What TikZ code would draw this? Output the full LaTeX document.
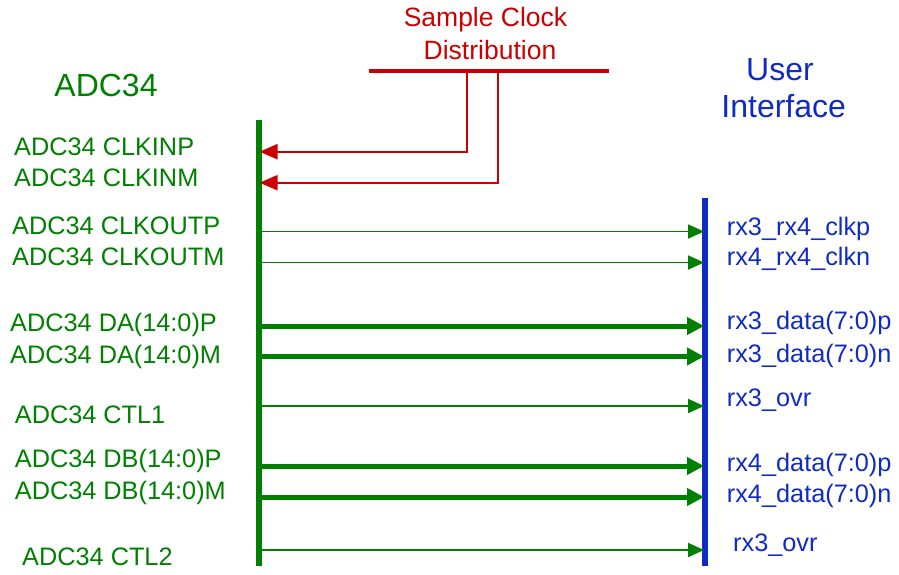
\documentclass[tikz,border=0pt]{standalone}
\usepackage{fontspec}
\setmainfont{Liberation Sans}
\usetikzlibrary{arrows.meta}
\definecolor{adcgreen}{RGB}{0,128,0}
\definecolor{clkred}{RGB}{204,0,0}
\definecolor{uiblue}{RGB}{16,44,192}
\tikzset{
  lbl/.style={anchor=base west, inner sep=0pt, text=adcgreen, font=\fontsize{25.3}{30}\selectfont},
  rlbl/.style={anchor=base west, inner sep=0pt, text=uiblue, font=\fontsize{25.3}{30}\selectfont},
  ttl/.style={anchor=base, inner sep=0pt, font=\fontsize{32}{38}\selectfont},
  thinsig/.style={draw=adcgreen, line width=1.8pt, -{Triangle[length=16pt,width=14pt]}},
  thicksig/.style={draw=adcgreen, line width=5pt, -{Triangle[length=17pt,width=17pt]}},
  clksig/.style={draw=clkred, line width=2pt, -{Triangle[length=18pt,width=15pt]}},
  bar/.style={line width=6pt}
}
\begin{document}
\begin{tikzpicture}[x=1pt,y=-1pt]
\useasboundingbox (0,0) rectangle (899,574);
% titles
\node[ttl, text=adcgreen] (adc) at (106,96.7) {ADC34};
\node[ttl, text=uiblue] (ui1) at (780,80.7) {User};
\node[ttl, text=uiblue] (ui2) at (783.7,117.7) {Interface};
\node[anchor=base, inner sep=0pt, text=clkred, font=\fontsize{26.5}{32}\selectfont] (sc1) at (485.5,26.7) {Sample Clock};
\node[anchor=base, inner sep=0pt, text=clkred, font=\fontsize{26.5}{32}\selectfont] (sc2) at (490,59.3) {Distribution};
% bars
\coordinate (gtop) at (259,120);
\coordinate (gbot) at (259,566);
\coordinate (btop) at (705,198);
\coordinate (bbot) at (705,566);
\draw[bar, draw=adcgreen] (gtop) -- (gbot);
\draw[bar, draw=uiblue] (btop) -- (bbot);
% clock distribution
\coordinate (cl) at (369,70.7);
\coordinate (cr) at (609,70.7);
\coordinate (c1) at (466.7,70.7);
\coordinate (c2) at (497.7,70.7);
\coordinate (k1) at (259.5,151.7);
\coordinate (k2) at (259.5,182.7);
\draw[draw=clkred, line width=4pt] (cl) -- (cr);
\draw[clksig] (c1) |- (k1);
\draw[clksig] (c2) |- (k2);
% left labels
\node[lbl] (l1) at (14,155) {ADC34 CLKINP};
\node[lbl] (l2) at (14,186.7) {ADC34 CLKINM};
\node[lbl] (l3) at (12,234) {ADC34 CLKOUTP};
\node[lbl] (l4) at (12,265.7) {ADC34 CLKOUTM};
\node[lbl] (l5) at (10,331) {ADC34 DA(14:0)P};
\node[lbl] (l6) at (10,363) {ADC34 DA(14:0)M};
\node[lbl] (l7) at (14.7,423) {ADC34 CTL1};
\node[lbl] (l8) at (14.7,467) {ADC34 DB(14:0)P};
\node[lbl] (l9) at (14.7,499) {ADC34 DB(14:0)M};
\node[lbl] (l10) at (22,565) {ADC34 CTL2};
% right labels
\node[rlbl] (r1) at (726.7,235) {rx3\_rx4\_clkp};
\node[rlbl] (r2) at (726.7,265.7) {rx4\_rx4\_clkn};
\node[rlbl] (r3) at (726.7,329) {rx3\_data(7:0)p};
\node[rlbl] (r4) at (726.7,362) {rx3\_data(7:0)n};
\node[rlbl] (r5) at (726.7,406.7) {rx3\_ovr};
\node[rlbl] (r6) at (726.7,471) {rx4\_data(7:0)p};
\node[rlbl] (r7) at (726.7,502) {rx4\_data(7:0)n};
\node[rlbl] (r8) at (733,551) {rx3\_ovr};
% signals
\foreach \n/\y in {1/231.5,2/262.5,5/326,6/356.5,7/406,8/466,9/497,10/550}{
  \coordinate (s\n) at (259,\y);
  \coordinate (t\n) at (704,\y);
}
\draw[thinsig] (s1) -- (t1);
\draw[thinsig] (s2) -- (t2);
\draw[thicksig] (s5) -- (t5);
\draw[thicksig] (s6) -- (t6);
\draw[thinsig] (s7) -- (t7);
\draw[thicksig] (s8) -- (t8);
\draw[thicksig] (s9) -- (t9);
\draw[thinsig] (s10) -- (t10);
\end{tikzpicture}
\end{document}
